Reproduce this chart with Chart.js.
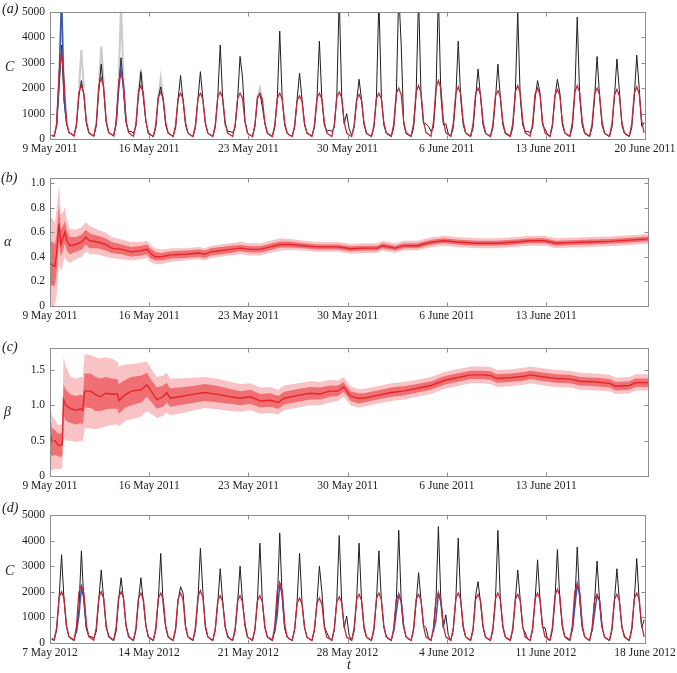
<!DOCTYPE html>
<html>
<head>
<meta charset="utf-8">
<script src="https://cdn.jsdelivr.net/npm/chart.js@4.4.0/dist/chart.umd.min.js"></script>
<style>
html,body{margin:0;padding:0;background:#fff;}
#wrap{position:relative;width:677px;height:673px;overflow:hidden;background:#fff;}
#wrap canvas{position:absolute;left:0;}
.lbl{position:absolute;font-family:"Liberation Serif","Times New Roman",serif;font-style:italic;font-size:14px;color:#222;line-height:1;white-space:nowrap;}
</style>
</head>
<body>
<div id="wrap">
  <canvas id="cA" width="677" height="165" style="top:0px"></canvas>
  <canvas id="cB" width="677" height="170" style="top:165px"></canvas>
  <canvas id="cC" width="677" height="165" style="top:335px"></canvas>
  <canvas id="cD" width="677" height="173" style="top:500px"></canvas>
  <div class="lbl" style="left:2px;top:2px">(a)</div>
  <div class="lbl" style="left:5px;top:60px">C</div>
  <div class="lbl" style="left:1px;top:171px">(b)</div>
  <div class="lbl" style="left:4px;top:235px">α</div>
  <div class="lbl" style="left:2px;top:340px">(c)</div>
  <div class="lbl" style="left:4px;top:405px">β</div>
  <div class="lbl" style="left:2px;top:501px">(d)</div>
  <div class="lbl" style="left:5px;top:564px">C</div>
  <div class="lbl" style="left:347px;top:658px">t</div>
</div>
<script>
// x = weekday index (weekends are not on the axis), 0 = first Monday
const xTicks = [0, 5, 10, 15, 20, 25, 30];
const xLabels2011 = ['9 May 2011', '16 May 2011', '23 May 2011', '30 May 2011', '6 June 2011', '13 June 2011', '20 June 2011'];
const xTicksAB = [0, 5, 10, 15, 20, 25];
const xLabels2011short = ['9 May 2011', '16 May 2011', '23 May 2011', '30 May 2011', '6 June 2011', '13 June 2011'];
const xLabels2012 = ['7 May 2012', '14 May 2012', '21 May 2012', '28 May 2012', '4 June 2012', '11 June 2012', '18 June 2012'];

const countTicks = [0, 1000, 2000, 3000, 4000, 5000];
const countLabels = ['0', '1000', '2000', '3000', '4000', '5000'];
const alphaTicks = [0, 0.2, 0.4, 0.6, 0.8, 1.0];
const alphaLabels = ['0', '0.2', '0.4', '0.6', '0.8', '1.0'];
const betaTicks = [0, 0.5, 1.0, 1.5];
const betaLabels = ['0', '0.5', '1.0', '1.5'];

// hours of the day at which the count rows below are read
const sampleHours = [2, 5, 8, 11, 14, 17, 20, 23];
const blueHours = [8, 11, 14, 17, 20];
const greyHours = [11, 14, 17];

// (a) observed counts, one row per weekday
const obsA = [
  [140, 100, 500, 2000, 3700, 1500, 600, 250],
  [200, 120, 500, 1700, 2300, 1700, 600, 250],
  [170, 110, 500, 1900, 2950, 1900, 650, 250],
  [190, 120, 550, 2000, 3200, 1900, 650, 300],
  [300, 220, 500, 1700, 2650, 1600, 700, 200],
  [150, 100, 450, 1600, 2050, 1500, 550, 220],
  [160, 100, 450, 1550, 2500, 1500, 550, 230],
  [150, 100, 450, 1550, 2650, 1550, 600, 230],
  [150, 100, 450, 1650, 3700, 1550, 550, 300],
  [300, 250, 450, 1550, 3250, 2400, 700, 250],
  [150, 100, 500, 1650, 1800, 1250, 600, 230],
  [150, 100, 450, 1550, 4250, 1550, 550, 220],
  [150, 100, 450, 1550, 2600, 1550, 550, 250],
  [180, 120, 450, 1550, 3850, 1550, 550, 300],
  [350, 300, 450, 1650, 5600, 1650, 600, 1000],
  [400, 150, 450, 1450, 2350, 1550, 550, 230],
  [150, 100, 450, 1650, 5500, 1650, 550, 230],
  [150, 100, 450, 1650, 5800, 3700, 600, 200],
  [150, 100, 450, 1700, 5600, 1700, 600, 600],
  [500, 300, 450, 1750, 5700, 1700, 550, 600],
  [200, 100, 450, 1600, 3850, 1600, 550, 230],
  [150, 100, 450, 1600, 2750, 1650, 550, 230],
  [150, 100, 450, 1550, 2950, 1600, 550, 220],
  [150, 100, 450, 1700, 5000, 1650, 550, 300],
  [300, 250, 450, 1600, 2300, 1800, 550, 400],
  [200, 100, 500, 1650, 2350, 1800, 550, 230],
  [150, 100, 450, 1700, 4800, 1650, 550, 220],
  [150, 100, 450, 1600, 3250, 1700, 550, 230],
  [150, 100, 450, 1650, 3150, 1900, 550, 230],
  [150, 100, 450, 1650, 3300, 2000, 500, 650]
];
// (a) model counts
const modA = [
  [150, 110, 600, 2600, 3400, 2300, 700, 250],
  [200, 120, 600, 1850, 2100, 1800, 700, 250],
  [180, 110, 620, 2100, 2400, 2050, 720, 260],
  [190, 120, 650, 2250, 2600, 2200, 730, 260],
  [180, 110, 600, 1850, 2100, 1800, 700, 250],
  [170, 100, 560, 1650, 1850, 1600, 650, 230],
  [170, 100, 550, 1600, 1800, 1580, 640, 230],
  [160, 100, 550, 1600, 1800, 1560, 640, 230],
  [170, 100, 560, 1650, 1850, 1600, 650, 230],
  [170, 100, 550, 1600, 1800, 1600, 660, 230],
  [160, 100, 550, 1600, 1800, 1560, 640, 230],
  [170, 100, 550, 1600, 1800, 1580, 640, 230],
  [160, 100, 520, 1500, 1700, 1480, 620, 220],
  [170, 100, 550, 1600, 1800, 1580, 640, 230],
  [170, 100, 560, 1650, 1850, 1620, 660, 240],
  [160, 100, 540, 1550, 1750, 1520, 630, 220],
  [170, 100, 550, 1600, 1800, 1580, 640, 230],
  [180, 110, 600, 1780, 2000, 1750, 680, 240],
  [180, 110, 620, 1850, 2100, 1830, 700, 250],
  [190, 110, 650, 2000, 2300, 2000, 720, 250],
  [180, 110, 610, 1800, 2050, 1780, 690, 240],
  [180, 110, 600, 1780, 2000, 1750, 680, 240],
  [170, 100, 580, 1700, 1900, 1660, 660, 230],
  [180, 110, 620, 1850, 2100, 1830, 700, 250],
  [180, 110, 600, 1780, 2000, 1750, 680, 240],
  [170, 100, 590, 1730, 1950, 1700, 670, 240],
  [180, 110, 620, 1850, 2100, 1830, 700, 250],
  [180, 110, 600, 1780, 2000, 1750, 680, 240],
  [170, 100, 590, 1730, 1950, 1700, 670, 240],
  [180, 110, 610, 1800, 2050, 1780, 690, 240]
];
// (a) grey envelope near the peaks, null where it is hidden
const greyA = [
  [2200, 5400, 1800], [2000, 3500, 2000], [1900, 3650, 2200], [2200, 5300, 2300],
  [1700, 2750, 1700], [1600, 2400, 1600], null, null, null, null,
  [1600, 2000, 1500], null, null, null, null, null, null, null, null, null,
  null, null, null, null, null, null, null, null, null, null
];
// (a) blue filter estimate where it shows from under the red line
const blueA = [
  [500, 2300, 5600, 1600, 650], null, null, [600, 1900, 2850, 2000, 700], null,
  null, null, null, null, null, null, null, null, null, null,
  null, null, null, null, null, null, null, null, null, null
];

// (d) observed counts, 2012
const obsD = [
  [150, 100, 500, 1750, 3450, 1650, 600, 250],
  [150, 100, 450, 1300, 3600, 1600, 550, 250],
  [250, 200, 450, 1650, 2850, 1700, 600, 300],
  [150, 100, 450, 1650, 2550, 1700, 700, 300],
  [150, 100, 500, 1650, 2550, 1600, 700, 230],
  [150, 100, 500, 1650, 3500, 1450, 600, 230],
  [150, 100, 500, 1650, 2200, 1950, 600, 230],
  [150, 100, 500, 1650, 3700, 2000, 600, 230],
  [150, 100, 500, 1550, 2900, 1600, 600, 300],
  [150, 100, 450, 1550, 3000, 1600, 750, 250],
  [150, 100, 500, 1650, 3900, 1600, 600, 230],
  [150, 100, 450, 1550, 4300, 1750, 550, 230],
  [150, 100, 500, 1600, 3500, 1550, 600, 230],
  [150, 100, 500, 1550, 3000, 2000, 650, 400],
  [200, 100, 500, 1650, 4200, 1600, 600, 1050],
  [300, 100, 450, 1650, 3900, 1650, 550, 230],
  [150, 100, 500, 1650, 3600, 1650, 600, 230],
  [150, 100, 500, 1600, 4400, 1650, 600, 230],
  [150, 100, 500, 1550, 2750, 1650, 700, 600],
  [200, 100, 500, 1600, 4550, 1650, 600, 1100],
  [300, 100, 500, 1650, 4100, 1650, 600, 230],
  [150, 100, 500, 1850, 2400, 1550, 600, 230],
  [150, 100, 500, 1650, 4400, 1650, 600, 230],
  [150, 100, 500, 1650, 2850, 1700, 600, 400],
  [150, 100, 500, 1650, 3250, 1650, 600, 600],
  [150, 100, 500, 1650, 3650, 1650, 600, 230],
  [150, 100, 500, 1450, 3750, 1700, 600, 230],
  [150, 100, 500, 1650, 3200, 1650, 600, 230],
  [150, 100, 500, 1650, 2900, 1650, 600, 300],
  [150, 100, 500, 1650, 3300, 1650, 600, 900]
];
// (d) model counts
const modD = [
  [180, 110, 600, 1780, 2000, 1750, 680, 240],
  [190, 110, 640, 1980, 2250, 1950, 710, 250],
  [180, 110, 600, 1780, 2000, 1750, 680, 240],
  [180, 110, 600, 1780, 2000, 1750, 680, 240],
  [170, 100, 590, 1730, 1950, 1700, 670, 240],
  [170, 100, 590, 1730, 1950, 1700, 670, 240],
  [170, 100, 590, 1730, 1950, 1700, 670, 240],
  [180, 110, 610, 1800, 2050, 1780, 690, 240],
  [170, 100, 560, 1650, 1850, 1600, 650, 230],
  [170, 100, 560, 1650, 1850, 1600, 650, 230],
  [170, 100, 560, 1650, 1850, 1600, 650, 230],
  [190, 110, 660, 2050, 2350, 2050, 720, 250],
  [160, 100, 540, 1550, 1750, 1520, 630, 220],
  [160, 100, 540, 1550, 1750, 1520, 630, 220],
  [170, 100, 550, 1600, 1800, 1580, 640, 230],
  [170, 100, 580, 1700, 1900, 1660, 660, 230],
  [170, 100, 590, 1730, 1950, 1700, 670, 240],
  [170, 100, 580, 1700, 1900, 1660, 660, 230],
  [170, 100, 580, 1700, 1900, 1660, 660, 230],
  [170, 100, 590, 1730, 1950, 1700, 670, 240],
  [170, 100, 590, 1730, 1950, 1700, 670, 240],
  [170, 100, 580, 1700, 1900, 1660, 660, 230],
  [170, 100, 590, 1730, 1950, 1700, 670, 240],
  [170, 100, 580, 1700, 1900, 1660, 660, 230],
  [170, 100, 590, 1730, 1950, 1700, 670, 240],
  [180, 110, 620, 1850, 2100, 1830, 700, 250],
  [190, 110, 650, 2000, 2300, 2000, 720, 250],
  [170, 100, 580, 1700, 1900, 1660, 660, 230],
  [170, 100, 580, 1700, 1900, 1660, 660, 230],
  [170, 100, 590, 1730, 1950, 1700, 670, 240]
];
const blueD = [
  null, [400, 1100, 2150, 1750, 600], null, null, null,
  null, null, null, null, null,
  null, [450, 1100, 2300, 1900, 650], null, null, null,
  null, null, [450, 1200, 1900, 1600, 600], null, [450, 900, 1950, 1600, 600],
  null, null, null, null, null,
  null, [450, 1400, 2300, 1850, 650], [450, 1200, 1850, 1650, 600], null, null
];

// (b) alpha estimate and its two credible bands
const alphaT = [0, 0.15, 0.25, 0.35, 0.45, 0.55, 0.65, 0.75, 0.85, 1.0, 1.3, 1.6, 1.8, 2.0, 2.4, 2.8, 3.1, 3.6, 4.1, 4.6,
  4.9, 5.05, 5.3, 5.6, 6.1, 6.8, 7.5, 7.8, 8.1, 8.6, 9.1, 9.6, 10.1, 10.6, 11.1, 11.6, 12.1, 12.8, 13.5, 14.1,
  14.5, 15.15, 15.8, 16.5, 16.75, 17.4, 17.8, 18.5, 19.0, 19.3, 19.85, 20.5, 21.5, 22.5, 23.5, 24.2, 24.9, 25.5, 26.2, 27.2,
  28.2, 29.2, 30.13];
const alphaMid = [0.35, 0.33, 0.32, 0.45, 0.67, 0.50, 0.55, 0.60, 0.53, 0.49, 0.50, 0.52, 0.56, 0.53, 0.52, 0.50, 0.47, 0.46, 0.44, 0.45,
  0.46, 0.43, 0.40, 0.40, 0.415, 0.42, 0.43, 0.42, 0.44, 0.45, 0.46, 0.47, 0.46, 0.46, 0.48, 0.50, 0.50, 0.49, 0.48, 0.48,
  0.48, 0.465, 0.47, 0.47, 0.49, 0.47, 0.49, 0.49, 0.51, 0.52, 0.53, 0.52, 0.51, 0.51, 0.52, 0.53, 0.53, 0.51, 0.515, 0.52,
  0.525, 0.535, 0.545];
const alphaInLo = [0.18, 0.16, 0.17, 0.30, 0.52, 0.40, 0.45, 0.51, 0.45, 0.42, 0.44, 0.46, 0.50, 0.47, 0.47, 0.45, 0.43, 0.42, 0.40, 0.41,
  0.42, 0.39, 0.37, 0.37, 0.385, 0.39, 0.40, 0.39, 0.41, 0.42, 0.43, 0.445, 0.435, 0.435, 0.455, 0.475, 0.475, 0.47, 0.46, 0.46,
  0.46, 0.445, 0.45, 0.45, 0.47, 0.45, 0.47, 0.47, 0.49, 0.50, 0.51, 0.50, 0.49, 0.49, 0.50, 0.51, 0.51, 0.49, 0.495, 0.50,
  0.505, 0.515, 0.525];
const alphaInHi = [0.53, 0.52, 0.50, 0.60, 0.82, 0.62, 0.65, 0.69, 0.61, 0.56, 0.56, 0.58, 0.62, 0.59, 0.57, 0.55, 0.52, 0.50, 0.48, 0.49,
  0.50, 0.47, 0.44, 0.43, 0.445, 0.45, 0.46, 0.45, 0.47, 0.48, 0.49, 0.495, 0.485, 0.485, 0.505, 0.525, 0.525, 0.51, 0.50, 0.50,
  0.50, 0.485, 0.49, 0.49, 0.51, 0.49, 0.51, 0.51, 0.53, 0.54, 0.55, 0.54, 0.53, 0.53, 0.54, 0.55, 0.55, 0.53, 0.535, 0.54,
  0.545, 0.555, 0.565];
const alphaOutLo = [0.00, 0.00, 0.00, 0.10, 0.35, 0.28, 0.34, 0.40, 0.37, 0.35, 0.38, 0.40, 0.44, 0.42, 0.42, 0.40, 0.39, 0.38, 0.37, 0.38,
  0.39, 0.36, 0.34, 0.34, 0.36, 0.37, 0.38, 0.37, 0.39, 0.40, 0.41, 0.42, 0.41, 0.41, 0.43, 0.45, 0.455, 0.45, 0.44, 0.44,
  0.44, 0.425, 0.43, 0.43, 0.45, 0.43, 0.45, 0.45, 0.47, 0.48, 0.49, 0.48, 0.47, 0.47, 0.48, 0.49, 0.49, 0.47, 0.475, 0.48,
  0.485, 0.495, 0.505];
const alphaOutHi = [0.73, 0.70, 0.68, 0.80, 0.99, 0.75, 0.76, 0.80, 0.70, 0.63, 0.62, 0.64, 0.68, 0.65, 0.62, 0.60, 0.56, 0.54, 0.52, 0.52,
  0.53, 0.50, 0.47, 0.46, 0.47, 0.47, 0.48, 0.47, 0.49, 0.50, 0.51, 0.52, 0.51, 0.51, 0.53, 0.55, 0.545, 0.53, 0.52, 0.52,
  0.52, 0.505, 0.51, 0.51, 0.53, 0.51, 0.53, 0.53, 0.55, 0.56, 0.57, 0.56, 0.55, 0.55, 0.56, 0.57, 0.57, 0.55, 0.555, 0.56,
  0.565, 0.575, 0.585];

// (c) beta estimate and its two credible bands
const betaT = [0, 0.1, 0.25, 0.4, 0.55, 0.62, 0.68, 0.8, 1.05, 1.3, 1.55, 1.65, 1.75, 2.05, 2.3, 2.55, 2.8, 3.1, 3.4, 3.47,
  3.8, 4.1, 4.6, 4.88, 5.1, 5.38, 5.7, 5.88, 6.05, 6.5, 7.1, 7.8, 8.5, 9.1, 9.6, 10.1, 10.6, 11.1, 11.5, 11.8,
  12.5, 13.1, 13.6, 14.1, 14.5, 14.8, 15.15, 15.5, 15.8, 16.5, 17.2, 17.8, 18.5, 19.2, 19.85, 20.5, 21.2, 21.8, 22.2, 22.5,
  23.2, 23.9, 24.2, 24.9, 25.5, 26.2, 26.7, 27.5, 28.2, 28.5, 29.2, 29.5, 30.13];
const betaMid = [0.62, 0.48, 0.50, 0.44, 0.43, 0.45, 1.08, 1.00, 0.95, 0.93, 0.95, 0.93, 1.20, 1.20, 1.15, 1.12, 1.17, 1.16, 1.16, 1.07,
  1.15, 1.20, 1.22, 1.29, 1.20, 1.08, 1.12, 1.18, 1.10, 1.12, 1.15, 1.18, 1.15, 1.12, 1.10, 1.12, 1.06, 1.07, 1.04, 1.10,
  1.14, 1.17, 1.16, 1.20, 1.20, 1.26, 1.13, 1.10, 1.10, 1.14, 1.18, 1.20, 1.24, 1.28, 1.35, 1.39, 1.43, 1.43, 1.42, 1.38,
  1.39, 1.41, 1.43, 1.40, 1.38, 1.37, 1.34, 1.33, 1.31, 1.27, 1.28, 1.32, 1.32];
const betaInLo = [0.35, 0.28, 0.30, 0.28, 0.27, 0.30, 0.85, 0.78, 0.75, 0.73, 0.75, 0.72, 0.97, 0.96, 0.92, 0.92, 0.94, 0.95, 0.95, 0.88,
  0.97, 1.00, 1.04, 1.12, 1.05, 0.95, 0.98, 1.04, 0.98, 1.00, 1.03, 1.06, 1.04, 1.02, 1.00, 1.02, 0.97, 0.98, 0.95, 1.01,
  1.05, 1.08, 1.08, 1.12, 1.13, 1.19, 1.06, 1.03, 1.04, 1.08, 1.12, 1.14, 1.18, 1.22, 1.29, 1.33, 1.37, 1.37, 1.36, 1.32,
  1.33, 1.35, 1.37, 1.34, 1.32, 1.31, 1.28, 1.27, 1.25, 1.21, 1.22, 1.26, 1.26];
const betaInHi = [0.85, 0.68, 0.65, 0.60, 0.60, 0.62, 1.30, 1.22, 1.15, 1.13, 1.15, 1.14, 1.45, 1.45, 1.40, 1.38, 1.40, 1.38, 1.37, 1.30,
  1.36, 1.40, 1.42, 1.46, 1.36, 1.25, 1.28, 1.32, 1.24, 1.25, 1.27, 1.30, 1.27, 1.23, 1.20, 1.22, 1.16, 1.17, 1.13, 1.19,
  1.23, 1.26, 1.25, 1.28, 1.28, 1.33, 1.20, 1.17, 1.17, 1.21, 1.25, 1.27, 1.30, 1.34, 1.41, 1.45, 1.49, 1.49, 1.48, 1.44,
  1.45, 1.47, 1.49, 1.46, 1.44, 1.43, 1.40, 1.39, 1.37, 1.33, 1.34, 1.38, 1.38];
const betaOutLo = [0.10, 0.08, 0.10, 0.10, 0.10, 0.12, 0.55, 0.50, 0.50, 0.48, 0.50, 0.48, 0.68, 0.67, 0.66, 0.68, 0.70, 0.72, 0.73, 0.70,
  0.78, 0.80, 0.84, 0.92, 0.88, 0.82, 0.85, 0.90, 0.86, 0.88, 0.92, 0.96, 0.94, 0.92, 0.91, 0.93, 0.88, 0.89, 0.87, 0.93,
  0.97, 1.00, 1.00, 1.04, 1.06, 1.12, 1.00, 0.97, 0.98, 1.02, 1.06, 1.08, 1.12, 1.16, 1.23, 1.27, 1.31, 1.31, 1.30, 1.26,
  1.27, 1.29, 1.31, 1.28, 1.26, 1.25, 1.22, 1.21, 1.20, 1.16, 1.17, 1.21, 1.21];
const betaOutHi = [1.05, 0.85, 0.80, 0.72, 0.72, 0.75, 1.68, 1.55, 1.40, 1.38, 1.40, 1.40, 1.72, 1.71, 1.68, 1.66, 1.68, 1.66, 1.62, 1.55,
  1.58, 1.58, 1.60, 1.62, 1.52, 1.40, 1.42, 1.46, 1.38, 1.38, 1.39, 1.40, 1.37, 1.33, 1.30, 1.31, 1.25, 1.26, 1.22, 1.28,
  1.31, 1.34, 1.33, 1.36, 1.35, 1.40, 1.27, 1.23, 1.23, 1.27, 1.31, 1.33, 1.36, 1.40, 1.47, 1.51, 1.55, 1.55, 1.54, 1.50,
  1.51, 1.53, 1.55, 1.52, 1.50, 1.49, 1.46, 1.45, 1.43, 1.39, 1.40, 1.44, 1.44];

Chart.defaults.font.family = '"Liberation Serif", "Times New Roman", serif';
Chart.defaults.font.size = 11.5;
Chart.defaults.color = '#222';

// helpers
function dayPoints(rows, hours, breakDays){
  const pts = [];
  rows.forEach((row, d) => {
    if(!row) return;
    row.forEach((v, k) => pts.push({x: d + hours[k] / 24, y: v}));
    if(breakDays) pts.push({x: d + 0.99, y: null});
  });
  return pts;
}
function pairPoints(ts, vals){ return ts.map((t, i) => ({x: t, y: vals[i]})); }

// box round the plot and ticks pointing inwards on all four sides
const framePlugin = {
  id: 'frame',
  afterDraw(chart){
    const {ctx, chartArea: a, scales: {x, y}} = chart;
    const L = Math.round(a.left) + 0.5, R = Math.round(a.right) + 0.5;
    const T = Math.round(a.top) + 0.5, B = Math.round(a.bottom) + 0.5;
    ctx.save();
    ctx.strokeStyle = '#8c8c8c'; ctx.lineWidth = 1;
    ctx.strokeRect(L, T, R - L, B - T);
    ctx.beginPath();
    x.ticks.forEach(t => {
      const px = Math.round(x.getPixelForValue(t.value)) + 0.5;
      ctx.moveTo(px, B); ctx.lineTo(px, B - 4);
      ctx.moveTo(px, T); ctx.lineTo(px, T + 4);
    });
    y.ticks.forEach(t => {
      const py = Math.round(y.getPixelForValue(t.value)) + 0.5;
      ctx.moveTo(L, py); ctx.lineTo(L + 4, py);
      ctx.moveTo(R, py); ctx.lineTo(R - 4, py);
    });
    ctx.stroke();
    ctx.restore();
  }
};

function xScale(max, ticks, labels, height){
  return {
    type: 'linear', min: 0, max: max,
    grid: {display: false, drawTicks: false}, border: {display: false},
    afterBuildTicks: s => { s.ticks = ticks.map(v => ({value: v})); },
    ticks: {autoSkip: false, maxRotation: 0, padding: 3, callback: (v, i) => labels[i]},
    afterFit: s => { s.height = height; s.paddingLeft = 0; s.paddingRight = 0; }
  };
}
function yScale(max, ticks, labels){
  return {
    type: 'linear', min: 0, max: max,
    grid: {display: false, drawTicks: false}, border: {display: false},
    afterBuildTicks: s => { s.ticks = ticks.map(v => ({value: v})); },
    ticks: {padding: 5, callback: (v, i) => labels[i]},
    afterFit: s => { s.width = 50; s.paddingTop = 0; s.paddingBottom = 0; }
  };
}
function line(data, color, width, extra){
  return Object.assign({data, borderColor: color, borderWidth: width, pointRadius: 0, fill: false, spanGaps: false}, extra || {});
}
function makeChart(id, datasets, xs, ys, pad){
  return new Chart(document.getElementById(id), {
    type: 'line',
    data: {datasets},
    options: {
      responsive: false, animation: false, devicePixelRatio: 1, parsing: false, normalized: true,
      layout: {padding: pad},
      plugins: {legend: {display: false}, tooltip: {enabled: false}},
      scales: {x: xs, y: ys}
    },
    plugins: [framePlugin]
  });
}

const RED_OBS = '#c3283c', BLACK = '#1e1e1e', BLUE = '#3a56a8', GREY = 'rgba(175,175,175,0.65)';
const RED = '#e4262b', BAND_IN = '#ef6f72', BAND_OUT = '#f9c3c5';

// (a)
makeChart('cA', [
  line(dayPoints(modA, sampleHours, false), RED_OBS, 1.3),
  line(dayPoints(blueA, blueHours, true), BLUE, 1.5),
  line(dayPoints(obsA, sampleHours, false), BLACK, 1),
  line(dayPoints(greyA, greyHours, true), GREY, 2)
], xScale(30, xTicks, xLabels2011, 26), yScale(5000, countTicks, countLabels), {top: 12, right: 32, left: 0, bottom: 0});

// (b)
makeChart('cB', [
  line(pairPoints(alphaT, alphaMid), RED, 1.4),
  line(pairPoints(alphaT, alphaInHi), BAND_IN, 0, {fill: '+1', backgroundColor: BAND_IN}),
  line(pairPoints(alphaT, alphaInLo), BAND_IN, 0),
  line(pairPoints(alphaT, alphaOutHi), BAND_OUT, 0, {fill: '+1', backgroundColor: BAND_OUT}),
  line(pairPoints(alphaT, alphaOutLo), BAND_OUT, 0)
], xScale(30.13, xTicksAB, xLabels2011short, 29), yScale(1.04, alphaTicks, alphaLabels), {top: 13, right: 29, left: 0, bottom: 0});

// (c)
makeChart('cC', [
  line(pairPoints(betaT, betaMid), RED, 1.4),
  line(pairPoints(betaT, betaInHi), BAND_IN, 0, {fill: '+1', backgroundColor: BAND_IN}),
  line(pairPoints(betaT, betaInLo), BAND_IN, 0),
  line(pairPoints(betaT, betaOutHi), BAND_OUT, 0, {fill: '+1', backgroundColor: BAND_OUT}),
  line(pairPoints(betaT, betaOutLo), BAND_OUT, 0)
], xScale(30.13, xTicksAB, xLabels2011short, 24), yScale(1.81, betaTicks, betaLabels), {top: 13, right: 29, left: 0, bottom: 0});

// (d)
makeChart('cD', [
  line(dayPoints(modD, sampleHours, false), RED_OBS, 1.3),
  line(dayPoints(blueD, blueHours, true), BLUE, 1.5),
  line(dayPoints(obsD, sampleHours, false), BLACK, 1)
], xScale(30, xTicks, xLabels2012, 30), yScale(5000, countTicks, countLabels), {top: 15, right: 32, left: 0, bottom: 0});
</script>
</body>
</html>
